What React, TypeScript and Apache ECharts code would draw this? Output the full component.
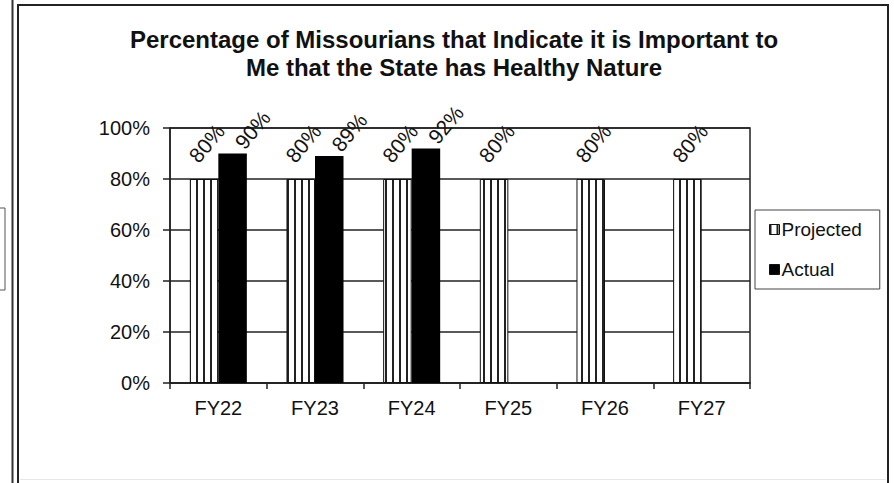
import React, { useEffect, useRef } from "react";
import * as echarts from "echarts";

const categories = ["FY22", "FY23", "FY24", "FY25", "FY26", "FY27"];
const projected = [80, 80, 80, 80, 80, 80];
const actual: (number | null)[] = [90, 89, 92, null, null, null];
const yTicks = [0, 20, 40, 60, 80, 100];
const titleLines = [
  "Percentage of Missourians that Indicate it is Important to",
  "Me that the State has Healthy Nature",
];

const FONT = "'Liberation Sans', Arial, sans-serif";

function makeStripe(): HTMLCanvasElement {
  const c = document.createElement("canvas");
  c.width = 7;
  c.height = 7;
  const ctx = c.getContext("2d")!;
  ctx.fillStyle = "#ffffff";
  ctx.fillRect(0, 0, 7, 7);
  ctx.fillStyle = "#222222";
  ctx.fillRect(0, 0, 2, 7);
  return c;
}

export default function App() {
  const ref = useRef<HTMLDivElement>(null);
  useEffect(() => {
    document.body.style.margin = "0";
    const chart = echarts.init(ref.current!, null, { renderer: "svg" });
    const stripe = makeStripe();
    const option: any = {
      animation: false,
      backgroundColor: "#ffffff",
      textStyle: { fontFamily: FONT, color: "#111" },
      graphic: [
        { type: "rect", shape: { x: 18, y: 5, width: 870, height: 490 }, style: { fill: "none", stroke: "#222", lineWidth: 2 }, silent: true },
        { type: "line", shape: { x1: 12.5, y1: 0, x2: 12.5, y2: 483 }, style: { stroke: "#333", lineWidth: 2 }, silent: true },
        { type: "line", shape: { x1: 5, y1: 208, x2: 5, y2: 290 }, style: { stroke: "#555", lineWidth: 1 }, silent: true },
        { type: "line", shape: { x1: 0, y1: 208, x2: 5, y2: 208 }, style: { stroke: "#555", lineWidth: 1 }, silent: true },
        { type: "line", shape: { x1: 0, y1: 290, x2: 5, y2: 290 }, style: { stroke: "#555", lineWidth: 1 }, silent: true },
        { type: "line", shape: { x1: 20, y1: 479.5, x2: 886, y2: 479.5 }, style: { stroke: "#e6e6e6", lineWidth: 1 }, silent: true },
        {
          type: "text",
          x: 454,
          y: 25,
          silent: true,
          style: {
            text: titleLines.join("\n"),
            align: "center",
            textAlign: "center",
            fontSize: 24,
            fontWeight: "bold",
            fontFamily: FONT,
            lineHeight: 28,
            fill: "#111",
          },
        },
      ],
      grid: {
        left: 170,
        right: 144,
        top: 128,
        bottom: 100,
        show: true,
        backgroundColor: "#ffffff",
        borderColor: "#222",
        borderWidth: 1.5,
      },
      legend: {
        orient: "vertical",
        left: 755,
        top: 210,
        padding: [10, 18, 10, 14],
        itemGap: 21,
        itemWidth: 10,
        itemHeight: 10,
        icon: "rect",
        itemStyle: { borderColor: "#111", borderWidth: 1 },
        borderColor: "#444",
        borderWidth: 1,
        textStyle: { fontSize: 19, color: "#111", fontFamily: FONT, padding: [0, 0, 0, -3] },
        data: ["Projected", "Actual"],
      },
      xAxis: {
        type: "category",
        data: categories,
        axisLine: { lineStyle: { color: "#222", width: 1.5 } },
        axisTick: { show: true, alignWithLabel: false, length: 6, lineStyle: { color: "#222", width: 1.5 } },
        axisLabel: { fontSize: 20, color: "#111", margin: 15, fontFamily: FONT },
        splitLine: { show: false },
      },
      yAxis: {
        type: "value",
        min: 0,
        max: 100,
        interval: 20,
        axisLine: { show: true, lineStyle: { color: "#222", width: 1.5 } },
        axisTick: { show: true, length: 7, lineStyle: { color: "#222", width: 1.5 } },
        axisLabel: {
          fontSize: 20,
          color: "#111",
          margin: 20,
          fontFamily: FONT,
          formatter: (v: number) => (yTicks.includes(v) ? v + "%" : ""),
        },
        splitLine: { show: true, lineStyle: { color: "#222", width: 1.5 } },
      },
      series: [
        {
          name: "Projected",
          type: "bar",
          data: projected,
          barGap: "0%",
          barCategoryGap: "41%",
          itemStyle: {
            color: { image: stripe, repeat: "repeat", imageWidth: 7, imageHeight: 7 },
            borderColor: "#111",
            borderWidth: 1,
          },
          label: {
            show: true,
            position: "top",
            rotate: 50,
            align: "left",
            verticalAlign: "middle",
            distance: 0,
            offset: [8, -21],
            fontSize: 21,
            color: "#111",
            fontFamily: FONT,
            formatter: "{c}%",
          },
        },
        {
          name: "Actual",
          type: "bar",
          data: actual,
          barGap: "0%",
          barCategoryGap: "41%",
          itemStyle: { color: "#000" },
          label: {
            show: true,
            position: "top",
            rotate: 50,
            align: "left",
            verticalAlign: "middle",
            distance: 0,
            offset: [10, 0],
            fontSize: 21,
            color: "#111",
            fontFamily: FONT,
            formatter: "{c}%",
          },
        },
      ],
    };
    chart.setOption(option);
    return () => chart.dispose();
  }, []);
  return (
    <div
      ref={ref}
      style={{ position: "absolute", left: 0, top: 0, width: 894, height: 483, background: "#fff" }}
    />
  );
}
